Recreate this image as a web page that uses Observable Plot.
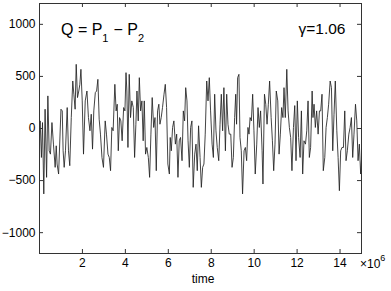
<!DOCTYPE html>
<html><head><meta charset="utf-8">
<script src="https://cdn.jsdelivr.net/npm/d3@7"></script>
<script src="https://cdn.jsdelivr.net/npm/@observablehq/plot@0.6"></script>
<style>body{margin:0;background:#fff}</style>
</head><body><div id="chart"></div>
<script>
// time in units of 10^6
const times = [
0.00,0.03,0.09,0.14,0.20,0.26,0.33,0.39,0.45,0.51,0.58,0.65,0.73,0.78,0.82,0.89,1.00,1.06,1.10,1.15,1.21,1.29,1.35,1.41,1.48,1.55,1.60,1.66,1.71,1.77,1.83,1.88,1.93,1.99,2.05,2.13,2.21,2.28,2.35,2.41,2.47,2.53,2.60,2.66,2.72,2.78,2.84,2.91,2.98,
3.06,3.12,3.19,3.25,3.31,3.37,3.43,3.51,3.57,3.62,3.67,3.73,3.79,3.85,3.92,3.98,4.03,4.07,4.12,4.18,4.24,4.30,4.37,4.43,4.49,4.54,4.60,4.65,4.71,4.77,4.83,4.88,4.94,5.00,5.07,5.13,5.19,5.25,5.32,5.38,5.44,5.50,5.56,5.61,5.67,5.73,5.80,5.86,5.92,5.98,
6.05,6.09,6.14,6.20,6.26,6.33,6.39,6.45,6.51,6.57,6.64,6.70,6.76,6.81,6.87,6.92,6.98,7.04,7.10,7.16,7.23,7.29,7.35,7.41,7.48,7.54,7.60,7.66,7.72,7.79,7.85,7.91,7.97,8.04,8.10,8.16,8.22,8.28,8.35,8.41,8.47,8.53,8.59,8.66,8.72,8.78,8.84,8.91,8.97,
9.03,9.09,9.14,9.18,9.23,9.29,9.34,9.40,9.46,9.53,9.59,9.65,9.71,9.76,9.81,9.87,9.93,9.99,10.05,10.12,10.18,10.24,10.30,10.37,10.41,10.48,10.54,10.60,10.66,10.72,10.79,10.85,10.91,10.97,11.03,11.10,11.16,11.22,11.28,11.34,11.39,11.45,11.52,11.58,11.64,11.70,11.76,11.83,
11.89,11.95,12.01,12.07,12.14,12.20,12.26,12.32,12.39,12.45,12.51,12.57,12.63,12.70,12.74,12.79,12.85,12.91,12.98,13.04,13.10,13.16,13.22,13.29,13.35,13.41,13.47,13.54,13.60,13.66,13.72,13.78,13.85,13.91,13.97,14.03,14.09,14.16,14.22,14.28,14.34,14.41,14.47,14.53,14.59,14.65,14.72,14.78,14.84,14.90,14.96,15.00
];
const values = [
-22,73,-278,57,-628,185,-469,313,-214,-246,57,-150,-373,-166,-341,-437,185,169,-214,-373,-214,201,-214,-357,105,456,329,185,616,297,360,424,568,265,-246,265,360,105,-22,137,-198,169,345,360,472,89,-54,-278,-373,
73,-54,-246,-278,-405,10,-22,424,169,233,-214,105,73,-118,201,169,536,360,-182,520,105,265,201,-278,41,360,73,488,169,265,-118,265,-246,-182,-278,-469,-54,297,10,105,-405,169,233,41,105,201,329,424,201,-341,
-437,-86,-214,10,73,-150,-54,-469,-118,-86,-309,169,73,392,265,-118,-373,10,73,-565,-246,-150,-405,26,-278,-565,-373,-341,-54,456,265,488,169,-150,-278,329,-22,-182,-309,41,329,-22,392,-214,329,41,-54,-54,-373,
-278,105,329,41,488,520,-86,-214,-628,-214,-182,-309,10,-54,105,73,329,-22,-437,-150,201,10,169,-214,-533,329,233,41,233,456,105,-118,-405,-150,360,265,-246,-54,201,105,392,105,568,169,10,-86,-405,10,
220,-309,265,-86,-278,169,-437,-118,-150,-22,265,-278,-182,360,105,233,10,169,-54,169,169,329,-405,-278,10,105,233,456,392,-214,137,456,-22,-278,-597,-214,-182,-182,169,-309,-214,-54,10,105,-278,-54,233,73,-309,-150,-437,-300
];
const xTicks = [2, 4, 6, 8, 10, 12, 14];
const yTicks = [-1000, -500, 0, 500, 1000];
const xDomain = [0, 15];
const yDomain = [-1200, 1200];

const n = Math.min(times.length, values.length);
const data = d3.range(n).map(i => ({t: times[i], v: values[i]}));

const W = 391, H = 291, mL = 39, mR = 30, mT = 3, mB = 38;
const innerW = W - mL - mR, innerH = H - mT - mB;
const tick = 4;
const fmt = d => d < 0 ? "\u2212" + Math.abs(d) : String(d);
const axisColor = "#333";

const chart = Plot.plot({
  width: W, height: H,
  marginLeft: mL, marginRight: mR, marginTop: mT, marginBottom: mB,
  style: {fontFamily: "'Liberation Sans', Arial, Helvetica, sans-serif", fontSize: "12px", background: "#fff", color: "#000"},
  x: {domain: xDomain},
  y: {domain: yDomain},
  marks: [
    Plot.lineY(data, {x: "t", y: "v", stroke: "#222", strokeWidth: 0.85}),
    Plot.tickX(xTicks, {x: d => d, insetTop: innerH - tick, stroke: axisColor}),
    Plot.tickX(xTicks, {x: d => d, insetBottom: innerH - tick, stroke: axisColor}),
    Plot.tickY(yTicks, {y: d => d, insetRight: innerW - tick, stroke: axisColor}),
    Plot.tickY(yTicks, {y: d => d, insetLeft: innerW - tick, stroke: axisColor}),
    Plot.frame({stroke: axisColor, strokeWidth: 1}),
    Plot.axisX(xTicks, {tickSize: 0, tickPadding: 5, label: null, tickFormat: fmt, fill: "#000"}),
    Plot.axisY(yTicks, {tickSize: 0, tickPadding: 4, label: null, tickFormat: fmt, fill: "#000"})
  ]
});
document.getElementById("chart").appendChild(chart);

const svg = d3.select(chart);
// axis label
svg.append("text").attr("x", 203).attr("y", 283).attr("text-anchor", "middle")
  .attr("font-size", 12).attr("fill", "#000").text("time");
// exponent
const ex = svg.append("text").attr("x", 360).attr("y", 268).attr("text-anchor", "start")
  .attr("font-size", 12).attr("fill", "#000");
ex.append("tspan").text("\u00d710");
ex.append("tspan").attr("font-size", 9).attr("dy", -7).text("6");
// annotation Q = P1 - P2
const q = svg.append("text").attr("x", 61).attr("y", 34.5).attr("text-anchor", "start")
  .attr("font-size", 16).attr("fill", "#000");
q.append("tspan").text("Q = P");
q.append("tspan").attr("font-size", 11).attr("dy", 7).text("1");
q.append("tspan").attr("dy", -7).attr("dx", 5).text("\u2212 P");
q.append("tspan").attr("font-size", 11).attr("dy", 7).text("2");
// gamma
svg.append("text").attr("x", 345.5).attr("y", 33.5).attr("text-anchor", "end")
  .attr("font-size", 15.5).attr("fill", "#000").text("\u03b3=1.06");
</script>
</body></html>
